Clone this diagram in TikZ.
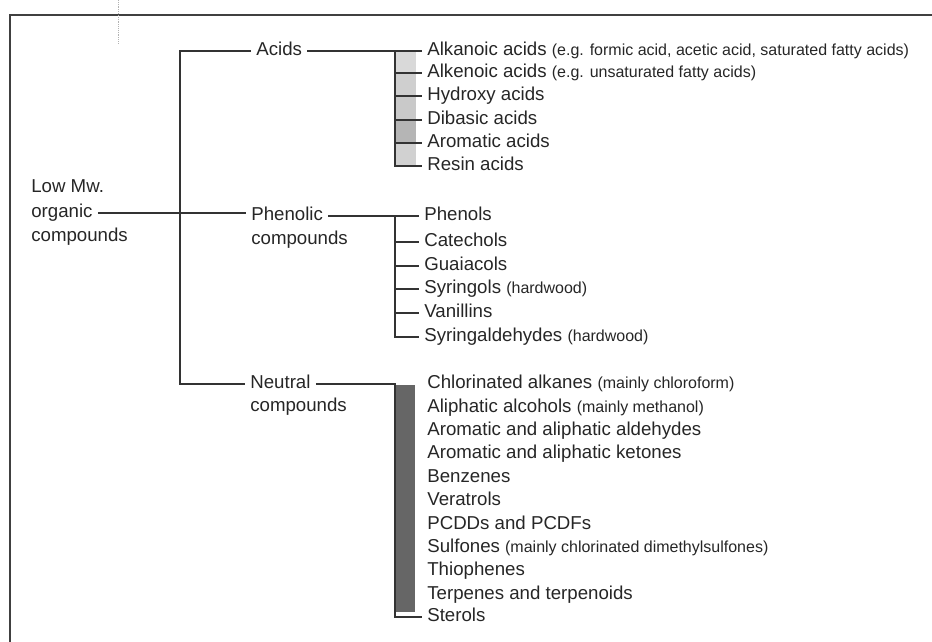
\documentclass[tikz,border=0pt]{standalone}
\usepackage{fontspec}
\setmainfont{Liberation Sans}
\newcommand{\hint}[1]{{\fontsize{12}{14}\selectfont #1}}
\tikzset{
    lbl/.style={anchor=west, inner sep=0pt, outer sep=4pt, text height=10pt,
        text depth=3pt, font=\fontsize{14}{16}\selectfont, text=black!85},
    wire/.style={line width=0.8pt, draw=black!80},
    stip/.style={fill=gray!#1},
    bar/.style={fill=black!60},
}
\begin{document}
\begin{tikzpicture}[x=0.75pt,y=-0.75pt]
    \useasboundingbox (0,0) rectangle (932,642);

    % Frame of the page
    \draw[line width=1.2pt, black!75] (10,642) -- (10,15) -- (932,15);
    \draw[gray!60, densely dotted] (118,0) -- (118,44);

    % Root
    \node[lbl] (roota) at (26,188) {Low Mw.};
    \node[lbl] (rootb) at (26,213) {organic};
    \node[lbl] (rootc) at (26,237) {compounds};

    % Main groups
    \node[lbl] (acids) at (251,51) {Acids};
    \node[lbl] (phenolic) at (246,216) {Phenolic};
    \node[lbl] (phenolicb) at (246,240) {compounds};
    \node[lbl] (neutral) at (245,384) {Neutral};
    \node[lbl] (neutralb) at (245,407) {compounds};
    \coordinate (trunk) at (180,213);
    \draw[wire] (acids.west) -| (trunk) |- (neutral.west);
    \draw[wire] (rootb.east) -- (rootb.east -| phenolic.west);

    % Acids
    \node[lbl] (alkanoic) at (422,51) {Alkanoic acids \hint{(e.g. formic acid, acetic acid, saturated fatty acids)}};
    \node[lbl] (alkenoic) at (422,73) {Alkenoic acids \hint{(e.g. unsaturated fatty acids)}};
    \node[lbl] (hydroxy) at (422,96) {Hydroxy acids};
    \node[lbl] (dibasic) at (422,120) {Dibasic acids};
    \node[lbl] (aromatic) at (422,143) {Aromatic acids};
    \node[lbl] (resin) at (422,166) {Resin acids};
    \coordinate (acbar) at (395,51);
    \fill[stip=30] (396,52) rectangle (416,73);
    \fill[stip=38] (396,73) rectangle (416,96);
    \fill[stip=42] (396,96) rectangle (416,120);
    \fill[stip=58] (396,120) rectangle (416,143);
    \fill[stip=36] (396,143) rectangle (416,166);
    \draw[wire] (acids.east) -- (alkanoic.west);
    \draw[wire] (acbar) |- (resin.west);
    \draw[wire] (alkenoic.west -| acbar) -- (alkenoic.west);
    \draw[wire] (hydroxy.west -| acbar) -- (hydroxy.west);
    \draw[wire] (dibasic.west -| acbar) -- (dibasic.west);
    \draw[wire] (aromatic.west -| acbar) -- (aromatic.west);

    % Phenolic compounds
    \node[lbl] (phenols) at (419,216) {Phenols};
    \node[lbl] (catechols) at (419,242) {Catechols};
    \node[lbl] (guaiacols) at (419,266) {Guaiacols};
    \node[lbl] (syringols) at (419,289) {Syringols \hint{(hardwood)}};
    \node[lbl] (vanillins) at (419,313) {Vanillins};
    \node[lbl] (syringald) at (419,337) {Syringaldehydes \hint{(hardwood)}};
    \coordinate (phbar) at (395,216);
    \draw[wire] (phenolic.east) -- (phenols.west);
    \draw[wire] (phbar) |- (syringald.west);
    \draw[wire] (catechols.west -| phbar) -- (catechols.west);
    \draw[wire] (guaiacols.west -| phbar) -- (guaiacols.west);
    \draw[wire] (syringols.west -| phbar) -- (syringols.west);
    \draw[wire] (vanillins.west -| phbar) -- (vanillins.west);

    % Neutral compounds
    \node[lbl] (chlorinated) at (422,384) {Chlorinated alkanes \hint{(mainly chloroform)}};
    \node[lbl] (aliphatic) at (422,408) {Aliphatic alcohols \hint{(mainly methanol)}};
    \node[lbl] (aldehydes) at (422,431) {Aromatic and aliphatic aldehydes};
    \node[lbl] (ketones) at (422,454) {Aromatic and aliphatic ketones};
    \node[lbl] (benzenes) at (422,478) {Benzenes};
    \node[lbl] (veratrols) at (422,501) {Veratrols};
    \node[lbl] (pcdd) at (422,525) {PCDDs and PCDFs};
    \node[lbl] (sulfones) at (422,548) {Sulfones \hint{(mainly chlorinated dimethylsulfones)}};
    \node[lbl] (thiophenes) at (422,571) {Thiophenes};
    \node[lbl] (terpenes) at (422,595) {Terpenes and terpenoids};
    \node[lbl] (sterols) at (422,617) {Sterols};
    \coordinate (ntbar) at (395,384);
    \fill[bar] (395,385) rectangle (415,612);
    \draw[wire] (neutral.east) -- (neutral.east -| ntbar) |- (sterols.west);
\end{tikzpicture}
\end{document}
